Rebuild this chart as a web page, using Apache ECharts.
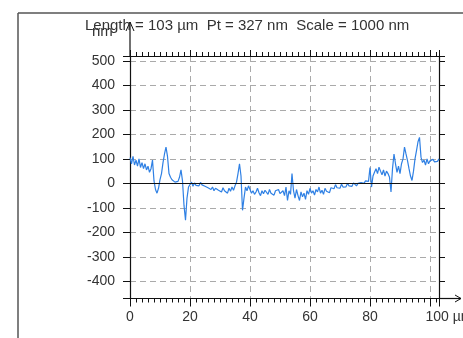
<!DOCTYPE html>
<html>
<head>
<meta charset="utf-8">
<script src="https://cdn.jsdelivr.net/npm/echarts@6/dist/echarts.min.js"></script>
<style>
html,body{margin:0;padding:0;background:#fff;}
#chart{width:463px;height:338px;}
</style>
</head>
<body>
<div id="chart"></div>
<script>
const sampleStep = 0.5;
const profileNm = [
  105, 80, 110, 75, 95,
  70, 100, 65, 85, 60, 80,
  55, 70, 45, 60,
  95,
  10, -25, -40, -20,
  15, 40, 85, 120, 148, 110,
  40, 25, 15, 20, 5, 12, 8, 25,
  55, 10, -90, -150, -60, -15,
  -5, 5, -12, 2, -8, 0, -10, 4, -6, -2, -12,
  -5, -18, -10, -25, -15, -30, -20, -12, -28, -22, -35, -18, -30, -25, -40, -20, -32, -15, -28, -10,
  5,
  40, 80, 30,
  -110, -60,
  -15, -30, -10,
  -25, -40, -30, -45, -35, -20, -38, -50, -30, -42, -28, -35, -45, -25, -40, -32, -48, -30, -38, -25, -42, -35, -30,
  -50, -15, -70, -30, -45,
  40,
  -30, -60, -25, -50, -70, -35, -55, -40, -65, -30, -45,
  -20, -40, -30, -48, -25, -35, -15, -40, -28, -45, -20, -32, -25, -38, -18,
  -10, -22, -5, -18, -12, -20, -3, -15, -8, -14, 0, -10, -5, -12, 2, -6, -10, 0, -4, 3,
  5, 0, 10, 2, 8,
  65, -15, 30,
  45, 60, 40, 66, 50,
  35, 55, 30, 50, 40, 25,
  -35,
  60, 120, 80,
  45, 70, 40, 80, 100,
  148, 120, 93, 60,
  30, 12, 50, 100, 134,
  170, 188, 107,
  85, 95, 75, 100, 80, 92, 85, 98, 88, 95, 90, 100
];
const xTickLabels = ['0', '20', '40', '60', '80', '100 µm'];
const xTickValues = [0, 20, 40, 60, 80, 100];
const yTickValues = [-400, -300, -200, -100, 0, 100, 200, 300, 400, 500];
const titleText = 'Length = 103 µm  Pt = 327 nm  Scale = 1000 nm';
const yUnit = 'nm';
const xMin = 0, xMax = 103, yMin = -470, yMax = 520;

const points = profileNm.map((v, i) => [i * sampleStep, v]);

const FONT = '"Liberation Sans", Arial, sans-serif';
const labelColor = '#333';
const gridDash = { color: '#aaa', type: [6, 4], width: 1 };
const axisLineStyle = { show: true, onZero: false, lineStyle: { color: '#111', width: 1.2 } };

const chart = echarts.init(document.getElementById('chart'), null, { renderer: 'canvas' });
chart.setOption({
  animation: false,
  backgroundColor: '#fff',
  grid: { left: 130, right: 24, top: 56, bottom: 39.5, containLabel: false, outerBoundsMode: 'none' },
  xAxis: [
    {
      type: 'value', position: 'bottom', min: xMin, max: xMax, splitNumber: 5,
      axisLine: axisLineStyle,
      axisTick: { show: true, inside: false, length: 8, lineStyle: { color: '#111' } },
      minorTick: { show: true, splitNumber: 10, length: 4, lineStyle: { color: '#111' } },
      axisLabel: {
        show: true, margin: 12, color: labelColor, fontFamily: FONT, fontSize: 14,
        formatter: v => {
          const i = xTickValues.indexOf(v);
          if (i < 0) return '';
          return i === xTickValues.length - 1 ? '{u|' + xTickLabels[i] + '}' : xTickLabels[i];
        },
        rich: { u: { fontFamily: FONT, fontSize: 14, color: labelColor, padding: [0, 0, 0, 38] } }
      },
      splitLine: { show: true, lineStyle: gridDash }
    },
    {
      type: 'value', position: 'top', min: xMin, max: xMax, splitNumber: 5,
      axisLine: axisLineStyle,
      axisTick: { show: true, inside: false, length: 6, lineStyle: { color: '#111' } },
      minorTick: { show: true, splitNumber: 10, length: 4, lineStyle: { color: '#111' } },
      axisLabel: { show: false },
      splitLine: { show: false }
    }
  ],
  yAxis: [
    {
      type: 'value', position: 'left', min: yMin, max: yMax, splitNumber: 10,
      axisLine: axisLineStyle,
      axisTick: { show: true, inside: false, length: 7, lineStyle: { color: '#111' } },
      axisLabel: {
        show: true, margin: 15, color: labelColor, fontFamily: FONT, fontSize: 14,
        formatter: v => yTickValues.indexOf(v) >= 0 ? String(v) : ''
      },
      splitLine: { show: true, lineStyle: gridDash }
    },
    {
      type: 'value', position: 'right', min: yMin, max: yMax, splitNumber: 10,
      axisLine: axisLineStyle,
      axisTick: { show: true, inside: false, length: 6, lineStyle: { color: '#111' } },
      axisLabel: { show: false },
      splitLine: { show: false }
    }
  ],
  graphic: [
    { type: 'line', shape: { x1: 18, y1: 13, x2: 463, y2: 13 }, style: { stroke: '#555', lineWidth: 1.5 } },
    { type: 'line', shape: { x1: 18, y1: 13, x2: 18, y2: 338 }, style: { stroke: '#555', lineWidth: 1.5 } },
    { type: 'line', shape: { x1: 130, y1: 22, x2: 130, y2: 56 }, style: { stroke: '#111', lineWidth: 1.2 } },
    { type: 'polyline', shape: { points: [[126, 31], [130, 22], [134, 31]] }, style: { stroke: '#111', lineWidth: 1, fill: null } },
    { type: 'line', shape: { x1: 439, y1: 298.5, x2: 461, y2: 298.5 }, style: { stroke: '#111', lineWidth: 1.2 } },
    { type: 'polyline', shape: { points: [[455, 295], [461, 298.5], [455, 302]] }, style: { stroke: '#111', lineWidth: 1, fill: null } },
    { type: 'text', left: 92, top: 24, style: { text: yUnit, fill: '#333', font: '15px ' + FONT } },
    { type: 'text', left: 85, top: 18, style: { text: titleText, fill: '#333', font: '15px ' + FONT } }
  ],
  series: [{
    type: 'line',
    data: points,
    xAxisIndex: 0, yAxisIndex: 0,
    showSymbol: false,
    lineStyle: { color: '#2f80e4', width: 1.2 },
    markLine: {
      silent: true, symbol: ['none', 'none'], label: { show: false },
      lineStyle: { color: '#111', type: 'solid', width: 1.2 },
      data: [{ yAxis: 0 }]
    },
    z: 3
  }]
});
</script>
</body>
</html>
